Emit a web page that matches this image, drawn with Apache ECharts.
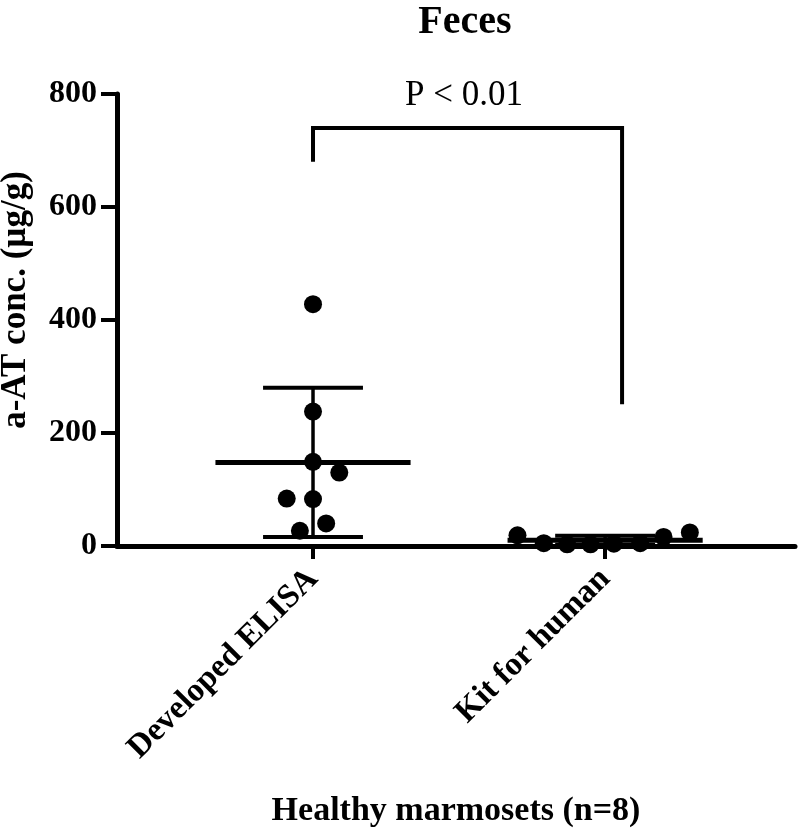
<!DOCTYPE html>
<html>
<head>
<meta charset="utf-8">
<script src="https://cdn.jsdelivr.net/npm/echarts@6/dist/echarts.min.js"></script>
<style>html,body{margin:0;padding:0;background:#fff}#c{width:800px;height:837px}</style>
</head>
<body>
<div id="c"></div>
<script>
// ---- data ----
const categories = ['Developed ELISA', 'Kit for human'];
const elisaValues = [428, 238, 149, 130, 84, 83, 40, 27];
const elisaJitter = [0, 0, 0, 0.09, -0.09, 0, 0.045, -0.045];
const kitValues = [19, 5, 3, 3, 4, 5, 16, 24];
const kitJitter = [-0.30, -0.21, -0.13, -0.05, 0.03, 0.12, 0.20, 0.29];
const groupMeans = [148, 10];
const groupSD = [132, 8];
const yTicks = [0, 200, 400, 600, 800];
const bracket = [[1, 680], [1, 740], [2.058, 740], [2.058, 251]];
const pText = 'P < 0.01';

const FONT = '"Liberation Serif", "Times New Roman", serif';

const elisaData = elisaValues.map((v, i) => [1 + elisaJitter[i], v]);
const kitData = kitValues.map((v, i) => [2 + kitJitter[i], v]);
const summary = groupMeans.map((m, i) => [i + 1, m, groupSD[i]]);

const chart = echarts.init(document.getElementById('c'), null, {renderer: 'canvas'});
chart.setOption({
  backgroundColor: '#fff',
  animation: false,
  title: [
    {text: 'Feces', left: 460, top: -2, textAlign: 'center',
     textStyle: {fontFamily: FONT, fontWeight: 'bold', fontSize: 40, color: '#000'}},
    {text: pText, left: 459, top: 73, textAlign: 'center',
     textStyle: {fontFamily: FONT, fontWeight: 'normal', fontSize: 35, color: '#000'}}
  ],
  grid: {left: 117, right: 5, top: 94, bottom: 291, containLabel: false, outerBoundsMode: 'none'},
  xAxis: {
    type: 'value', min: 0.329, max: 2.65,
    name: 'Healthy marmosets (n=8)', nameLocation: 'middle', nameGap: 248,
    nameTextStyle: {fontFamily: FONT, fontWeight: 'bold', fontSize: 34, color: '#000'},
    axisLine: {show: true, onZero: false, lineStyle: {color: '#000', width: 5}},
    axisTick: {show: true, customValues: [1, 2], length: 13, lineStyle: {color: '#000', width: 4}},
    axisLabel: {show: true, customValues: [1, 2], rotate: 45, margin: 28,
      formatter: v => categories[Math.round(v) - 1] || '',
      fontFamily: FONT, fontWeight: 'bold', fontSize: 33, color: '#000'},
    splitLine: {show: false}
  },
  yAxis: {
    type: 'value', min: 0, max: 800, interval: 200,
    name: 'a-AT conc. (µg/g)', nameLocation: 'middle', nameGap: 84, nameRotate: 90,
    nameTextStyle: {fontFamily: FONT, fontWeight: 'bold', fontSize: 35, color: '#000', padding: [0, 0, 0, 40]},
    axisLine: {show: true, lineStyle: {color: '#000', width: 5}},
    axisTick: {show: true, length: 16, lineStyle: {color: '#000', width: 4}},
    axisLabel: {margin: 20, fontFamily: FONT, fontWeight: 'bold', fontSize: 32, color: '#000',
      formatter: v => yTicks.includes(v) ? String(v) : ''},
    splitLine: {show: false}
  },
  series: [
    {
      type: 'custom', name: 'summary', data: summary, z: 3,
      renderItem: function (params, api) {
        const x = api.value(0), m = api.value(1), sd = api.value(2);
        const unit = api.size([1, 0])[0];
        const c = api.coord([x, m]);
        const top = api.coord([x, m + sd]);
        const bot = api.coord([x, m - sd]);
        const mh = 0.334 * unit, ch = 0.171 * unit;
        const st = w => ({stroke: '#000', lineWidth: w, fill: null});
        return {type: 'group', children: [
          {type: 'line', shape: {x1: c[0], y1: top[1], x2: c[0], y2: bot[1]}, style: st(3.5)},
          {type: 'line', shape: {x1: c[0] - mh, y1: c[1], x2: c[0] + mh, y2: c[1]}, style: st(5)},
          {type: 'line', shape: {x1: c[0] - ch, y1: top[1], x2: c[0] + ch, y2: top[1]}, style: st(4)},
          {type: 'line', shape: {x1: c[0] - ch, y1: bot[1], x2: c[0] + ch, y2: bot[1]}, style: st(4)}
        ]};
      }
    },
    {type: 'scatter', name: categories[0], data: elisaData, symbol: 'circle', symbolSize: 18,
     itemStyle: {color: '#000', opacity: 1}, z: 4},
    {type: 'scatter', name: categories[1], data: kitData, symbol: 'circle', symbolSize: 18,
     itemStyle: {color: '#000', opacity: 1}, z: 4},
    {type: 'line', name: 'bracket', data: bracket, symbol: 'none', showSymbol: false,
     lineStyle: {color: '#000', width: 4, cap: 'butt', join: 'miter'}, z: 3}
  ]
});
</script>
</body>
</html>
